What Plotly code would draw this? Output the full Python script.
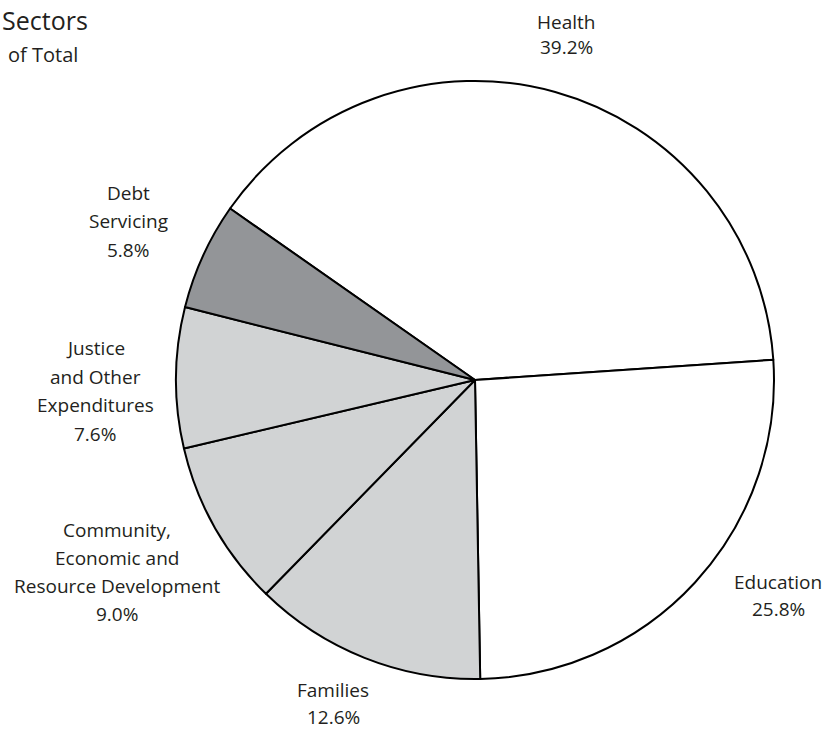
import plotly.graph_objects as go

sectors = ["Health", "Education", "Families",
           "Community, Economic and Resource Development",
           "Justice and Other Expenditures", "Debt Servicing"]
shares = [39.2, 25.8, 12.6, 9.0, 7.6, 5.8]
label_lines = [["Health"], ["Education"], ["Families"],
               ["Community,", "Economic and", "Resource Development"],
               ["Justice", "and Other", "Expenditures"],
               ["Debt", "Servicing"]]
colors = ["#ffffff", "#ffffff", "#d1d3d4", "#d1d3d4", "#d1d3d4", "#939598"]

W, H = 826, 729
# label anchor (center x, first-line center y) in pixels, and line spacing
label_pos = [(566, 22, 25), (778, 582, 27), (333, 690, 27),
             (117, 530, 28), (95, 348, 28.5), (128, 193, 28.5)]

fig = go.Figure(go.Pie(
    labels=sectors, values=shares, sort=False, direction="clockwise",
    rotation=-55, marker=dict(colors=colors, line=dict(color="#000000", width=2)),
    textinfo="none", hoverinfo="label+percent", showlegend=False,
    domain=dict(x=[176 / W, 774 / W], y=[(H - 679) / H, (H - 81) / H]),
))

ann = []
for lines, val, (cx, cy, sp) in zip(label_lines, shares, label_pos):
    all_lines = lines + [f"{val:.1f}%"]
    for i, t in enumerate(all_lines):
        py = cy + i * sp
        ann.append(dict(x=cx / W, y=1 - py / H, xref="paper", yref="paper",
                        text=t, showarrow=False, xanchor="center", yanchor="middle",
                        font=dict(family="Open Sans", size=19, color="#231f20")))

ann.append(dict(x=0, y=1 - 20 / H, xref="paper", yref="paper", text="Sectors",
                showarrow=False, xanchor="left", yanchor="middle",
                font=dict(family="Open Sans", size=25, color="#231f20")))
ann.append(dict(x=6 / W, y=1 - 55 / H, xref="paper", yref="paper", text="of Total",
                showarrow=False, xanchor="left", yanchor="middle",
                font=dict(family="Open Sans", size=20, color="#231f20")))

fig.update_layout(width=W, height=H, margin=dict(l=0, r=0, t=0, b=0),
                  paper_bgcolor="#ffffff", plot_bgcolor="#ffffff", annotations=ann)

fig.write_html("out.html")
